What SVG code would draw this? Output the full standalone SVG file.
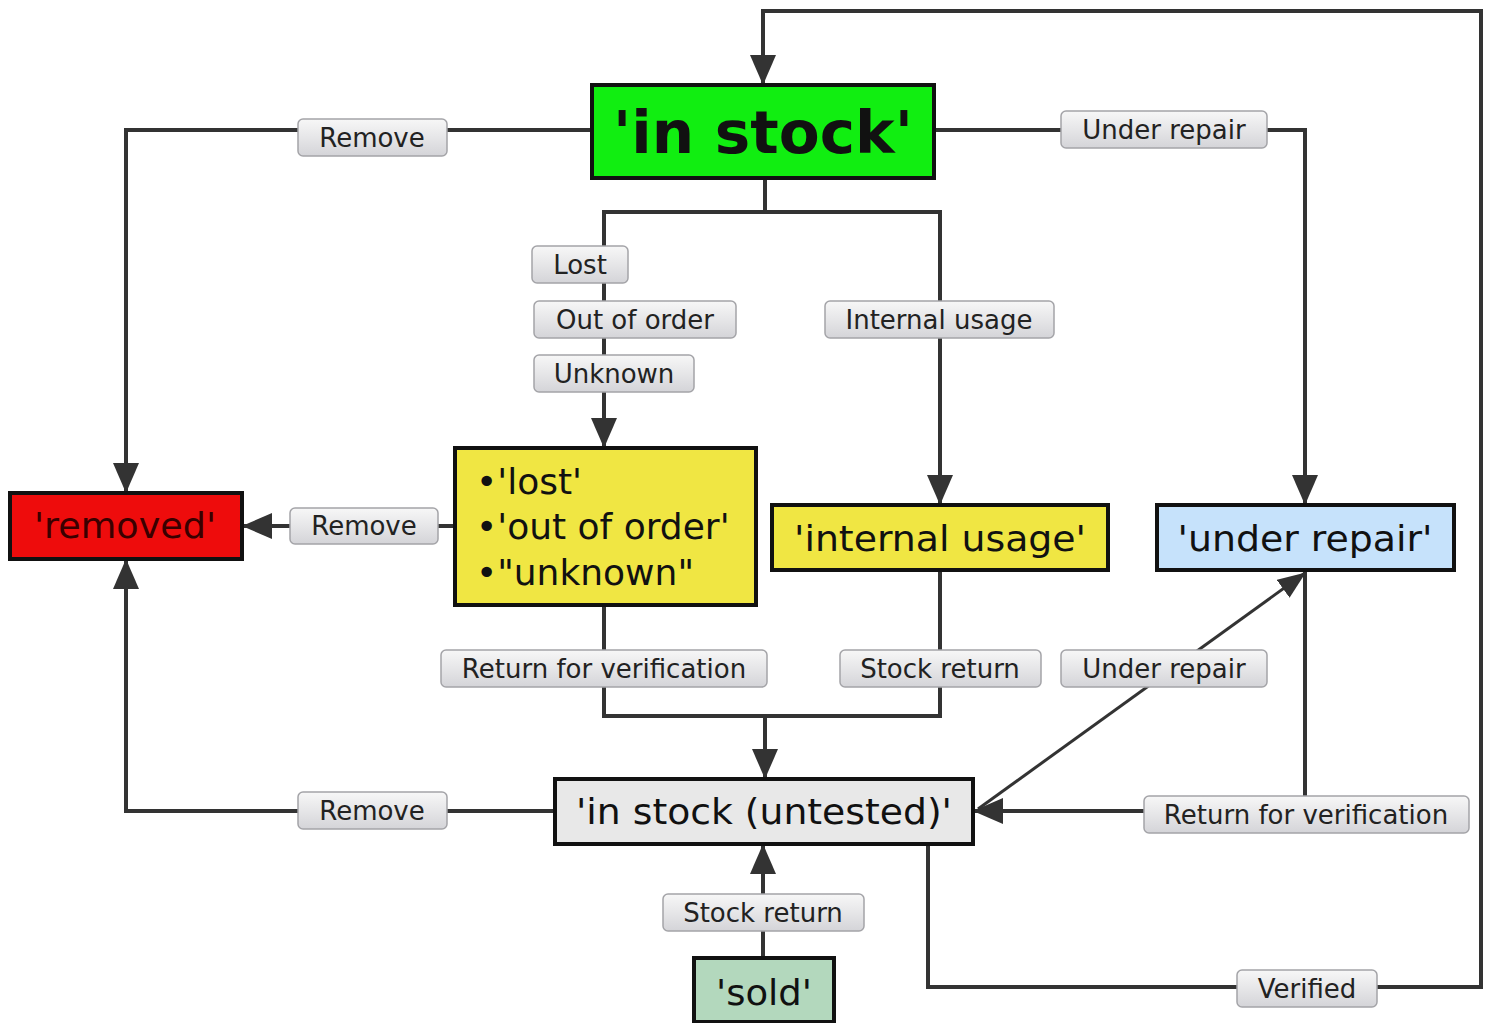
<svg xmlns="http://www.w3.org/2000/svg" width="1491" height="1023" viewBox="0 0 1491 1023">
<defs>
<linearGradient id="lg" x1="0" y1="0" x2="0" y2="1">
<stop offset="0" stop-color="#f7f7f7"/>
<stop offset="0.5" stop-color="#e6e6e8"/>
<stop offset="1" stop-color="#d4d4d8"/>
</linearGradient>
<marker id="ah" markerUnits="userSpaceOnUse" markerWidth="30" markerHeight="26" viewBox="0 0 30 26" refX="29" refY="13" orient="auto">
<path d="M0,0 L30,13 L0,26 Z" fill="#333"/>
</marker>
<marker id="ahs" markerUnits="userSpaceOnUse" markerWidth="28" markerHeight="22" viewBox="0 0 28 22" refX="27" refY="11" orient="auto">
<path d="M0,0 L28,11 L0,22 Z" fill="#333"/>
</marker>
<style>
.c{fill:none;stroke:#333;stroke-width:4}
.cd{fill:none;stroke:#333;stroke-width:3}
.lb rect{fill:url(#lg);stroke:#a4a4a8;stroke-width:1.5}
.lb text{font-family:"DejaVu Sans",sans-serif;font-size:26px;fill:#222;text-anchor:middle}
.n rect{stroke:#111;stroke-width:4}
.n text{font-family:"DejaVu Sans",sans-serif;font-size:36px;fill:#111;text-anchor:middle}
</style>
</defs>
<rect width="1491" height="1023" fill="#fff"/>
<g id="connectors">
<path class="c" d="M928,844 V987 H1481 V11 H763 V84" marker-end="url(#ah)"/>
<path class="c" d="M592,130 H126 V492" marker-end="url(#ah)"/>
<path class="c" d="M934,130 H1305 V504" marker-end="url(#ah)"/>
<path class="c" d="M765,178 V212 H604 V447" marker-end="url(#ah)"/>
<path class="c" d="M765,212 H940 V504" marker-end="url(#ah)"/>
<path class="c" d="M455,526 H243" marker-end="url(#ah)"/>
<path class="c" d="M604,605 V716 H765 V778" marker-end="url(#ah)"/>
<path class="c" d="M940,570 V716 H765"/>
<path class="c" d="M554,811 H126 V560" marker-end="url(#ah)"/>
<path class="c" d="M1305,571 V811 H974" marker-end="url(#ah)"/>
<path class="cd" d="M978,809 L1305,573" marker-end="url(#ahs)"/>
<path class="c" d="M763,957 V845" marker-end="url(#ah)"/>
<g class="lb">
<rect x="1237" y="970" width="140" height="37" rx="5"/><text x="1307" y="998">Verified</text>
<rect x="298" y="119" width="149" height="37" rx="5"/><text x="372" y="147">Remove</text>
<rect x="1061" y="111" width="206" height="37" rx="5"/><text x="1164" y="139">Under repair</text>
<rect x="532" y="246" width="96" height="37" rx="5"/><text x="580" y="274">Lost</text>
<rect x="534" y="301" width="202" height="37" rx="5"/><text x="635" y="329">Out of order</text>
<rect x="534" y="355" width="160" height="37" rx="5"/><text x="614" y="383">Unknown</text>
<rect x="825" y="301" width="229" height="37" rx="5"/><text x="939" y="329">Internal usage</text>
<rect x="290" y="508" width="148" height="36" rx="5"/><text x="364" y="535">Remove</text>
<rect x="441" y="650" width="326" height="37" rx="5"/><text x="604" y="678">Return for verification</text>
<rect x="840" y="650" width="201" height="37" rx="5"/><text x="940" y="678">Stock return</text>
<rect x="298" y="792" width="149" height="37" rx="5"/><text x="372" y="820">Remove</text>
<rect x="1144" y="796" width="325" height="37" rx="5"/><text x="1306" y="824">Return for verification</text>
<rect x="1061" y="650" width="206" height="37" rx="5"/><text x="1164" y="678">Under repair</text>
<rect x="663" y="894" width="201" height="37" rx="5"/><text x="763" y="922">Stock return</text>
</g>
</g>
<g id="in-stock" class="n">
<rect x="592" y="85" width="342" height="93" fill="#11ee11"/>
<text x="763" y="153" style="font-weight:bold;font-size:58px" textLength="300" lengthAdjust="spacingAndGlyphs">'in stock'</text>
</g>
<g id="removed" class="n">
<rect x="10" y="493" width="232" height="66" fill="#ee0c0c"/>
<text x="125" y="538" style="fill:#3a0000" textLength="182" lengthAdjust="spacingAndGlyphs">'removed'</text>
</g>
<g id="lost-group" class="n">
<rect x="455" y="448" width="301" height="157" fill="#f0e643"/>
<text x="476" y="494" style="text-anchor:start">•'lost'</text>
<text x="476" y="539" style="text-anchor:start">•'out of order'</text>
<text x="476" y="585" style="text-anchor:start">•"unknown"</text>
</g>
<g id="internal-usage" class="n">
<rect x="772" y="505" width="336" height="65" fill="#f0e643"/>
<text x="940" y="551" textLength="292" lengthAdjust="spacingAndGlyphs">'internal usage'</text>
</g>
<g id="under-repair" class="n">
<rect x="1157" y="505" width="297" height="65" fill="#c6e2fb"/>
<text x="1305" y="551" textLength="255" lengthAdjust="spacingAndGlyphs">'under repair'</text>
</g>
<g id="in-stock-untested" class="n">
<rect x="555" y="779" width="418" height="65" fill="#e8e8e8"/>
<text x="764" y="824" textLength="376" lengthAdjust="spacingAndGlyphs">'in stock (untested)'</text>
</g>
<g id="sold" class="n">
<rect x="694" y="958" width="140" height="64" fill="#b3d8bd"/>
<text x="764" y="1005" textLength="96" lengthAdjust="spacingAndGlyphs">'sold'</text>
</g>
</svg>
